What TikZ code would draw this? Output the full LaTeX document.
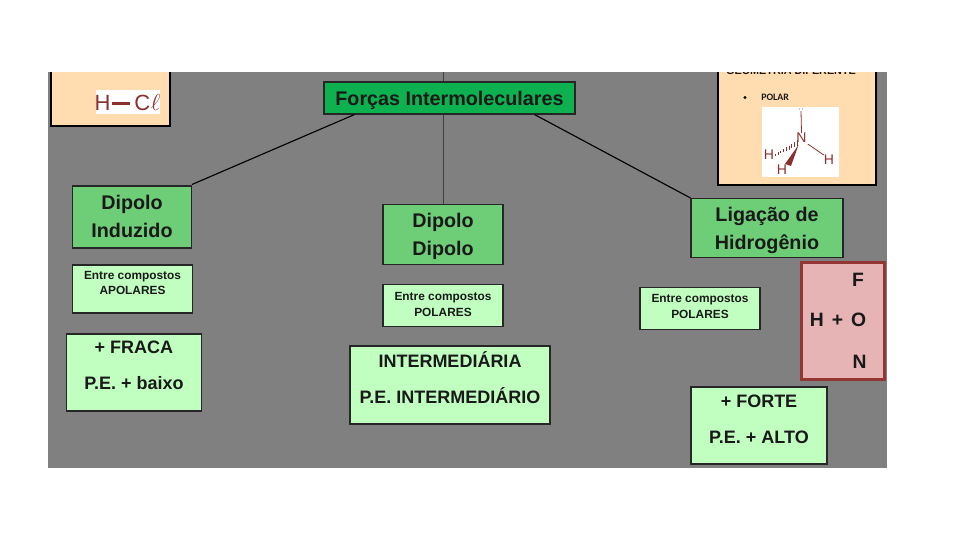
\documentclass[tikz,border=0pt]{standalone}
\usepackage{fontspec}
\usetikzlibrary{calc}
\setmainfont{Liberation Sans}
\newfontfamily\cardfont{Carlito}
\definecolor{slate}{HTML}{808080}
\definecolor{topgreen}{HTML}{0DB14F}
\definecolor{midgreen}{HTML}{6ECE78}
\definecolor{palegreen}{HTML}{C0FFC0}
\definecolor{peach}{HTML}{FFDDB0}
\definecolor{rosefill}{HTML}{E6B4B4}
\definecolor{roseline}{HTML}{943634}
\definecolor{chem}{HTML}{8A3030}
\newcommand{\lowerby}[1]{\rule[-#1]{0pt}{0pt}}
\tikzset{
 x=0.75pt,y=-0.75pt,
 box/.style={draw=black!85,line width=0.8pt,inner sep=0pt,align=center,font=\bfseries,text=black!90},
 headbox/.style={box,fill=topgreen,font=\bfseries\fontsize{14.8}{18}\selectfont},
 kindbox/.style={box,fill=midgreen,font=\bfseries\fontsize{14.8}{21}\selectfont},
 notebox/.style={box,fill=palegreen,font=\bfseries\fontsize{8.9}{11.7}\selectfont},
 propbox/.style={box,fill=palegreen,font=\bfseries\fontsize{13.5}{26.7}\selectfont},
 link/.style={draw=black,line width=0.85pt},
 chemtext/.style={text=chem,inner sep=0pt,font=\fontsize{10.5}{12}\selectfont},
 chembond/.style={draw=chem,line width=0.6pt}
}
\begin{document}
\begin{tikzpicture}
\useasboundingbox (0,0) rectangle (960,540);
\fill[white] (0,0) rectangle (960,540);
\fill[slate] (48,72) rectangle (887,468);
\begin{scope}
\clip (48,72) rectangle (887,468);
% side cards
\fill[peach] (51,60) rectangle (170,126);
\draw[black,line width=0.8pt] (51,60) -- (51,126) -- (170,126) -- (170,60);
\fill[peach] (718,60) rectangle (876,185);
\draw[black,line width=0.8pt] (718,60) -- (718,185) -- (876,185) -- (876,60);
\node[anchor=base,inner sep=0pt,font=\bfseries\fontsize{8.1}{9}\selectfont,text=black!90] (cuttext) at (791,74.5) {GEOMETRIA DIFERENTE};
\fill[black] (745,97.5) circle (1.6);
\node[anchor=west,inner sep=0pt,font=\cardfont\bfseries\fontsize{7.4}{8}\selectfont,text=black!90] (polar) at (761,97.5) {POLAR};
\end{scope}
% H-Cl
\node[fill=white,minimum width=64*0.75pt,minimum height=24*0.75pt,inner sep=0pt] (hcl) at (128,102) {};
\node[text=chem,inner sep=0pt,font=\fontsize{16.5}{20}\selectfont] (hcltext) at (127.5,102.5) {H\kern1.5pt\rule[4.4pt]{13.5pt}{2.2pt}\kern3pt C\kern0.5pt$\ell$};
% ammonia
\fill[white] (762,107) rectangle (839,177);
\node[chemtext] (atomN) at (801.5,138) {N};
\node[chemtext] (atomHa) at (769,155) {H};
\node[chemtext] (atomHb) at (829,160) {H};
\node[chemtext] (atomHc) at (782,170) {H};
\coordinate (pair) at (801,111);
\fill[chem] (799.5,109) circle (0.5) (802.5,109) circle (0.5);
\draw[chembond] (pair) -- (atomN.north);
\draw[chembond] ($(atomN.south east)+(1,1)$) -- (atomHb.north west);
\foreach \t/\h in {0/1,0.125/1.2,0.25/1.4,0.375/1.6,0.5/1.8,0.625/2,0.75/2.2,0.875/2.4,1/2.6}{
  \draw[chem,line width=0.6pt] ($(atomHa.east)!\t!(atomN.south west)+(1,{-\h})$) -- ($(atomHa.east)!\t!(atomN.south west)+(1,{\h})$);
}
\fill[chem] ($(atomN.south)+(-3,2)$) -- ($(atomHc.north)+(3,-1)$) -- ($(atomHc.north)+(9,1)$) -- cycle;
% main nodes
\node[headbox,minimum width=251*0.75pt,minimum height=32*0.75pt] (forcas) at (449.5,98) {\rule{0pt}{14pt}Forças Intermoleculares};
\node[kindbox,minimum width=119*0.75pt,minimum height=62*0.75pt] (dipind) at (132,217) {Dipolo\\Induzido\lowerby{1.5pt}};
\node[kindbox,minimum width=120*0.75pt,minimum height=60*0.75pt] (dipdip) at (443,234.5) {\rule{0pt}{13.7pt}Dipolo\\Dipolo};
\node[kindbox,minimum width=152*0.75pt,minimum height=59*0.75pt] (ligh) at (767,228) {\rule{0pt}{13.7pt}Ligação de\\Hidrogênio};
\node[notebox,minimum width=120*0.75pt,minimum height=48*0.75pt] (n1) at (132.5,289) {Entre compostos\\APOLARES\lowerby{9pt}};
\node[notebox,minimum width=120*0.75pt,minimum height=42*0.75pt] (n2) at (443,305.5) {Entre compostos\\POLARES\lowerby{1.5pt}};
\node[notebox,minimum width=120*0.75pt,minimum height=42*0.75pt] (n3) at (700,308.5) {Entre compostos\\POLARES\lowerby{3pt}};
\node[propbox,minimum width=135*0.75pt,minimum height=77*0.75pt] (p1) at (134,372.5) {+ FRACA\\P.E. + baixo\lowerby{11pt}};
\node[propbox,minimum width=200*0.75pt,minimum height=78*0.75pt] (p2) at (450,385) {INTERMEDIÁRIA\\P.E. INTERMEDIÁRIO\lowerby{11.5pt}};
\node[propbox,minimum width=136*0.75pt,minimum height=77*0.75pt] (p3) at (759,425.5) {+ FORTE\\P.E. + ALTO\lowerby{9.5pt}};
\node[draw=roseline,fill=rosefill,line width=2pt,minimum width=83*0.75pt,minimum height=117*0.75pt,inner sep=0pt] (fon) at (843,321) {};
\begin{scope}[every node/.style={inner sep=0pt,font=\bfseries\fontsize{14.5}{17}\selectfont,text=black!90}]
\node (atomF) at (858,280) {F};
\node (hplus) at (838,320) {H\kern2pt\ +\ \kern2pt O};
\node (atomNb) at (859.5,362) {N};
\end{scope}
% connectors
\coordinate (topc) at (443,72);
\draw[draw=black!50!slate,line width=0.75pt] (topc) -- (forcas.north -| dipdip.north);
\draw[draw=black!50!slate,line width=0.75pt] (forcas.south -| dipdip.north) -- (dipdip.north);
\draw[link] ($(forcas.south west)+(31,0)$) -- ($(dipind.north east)+(0,-1)$);
\draw[link] ($(forcas.south east)+(-41,0)$) -- (ligh.north west);
\end{tikzpicture}
\end{document}
